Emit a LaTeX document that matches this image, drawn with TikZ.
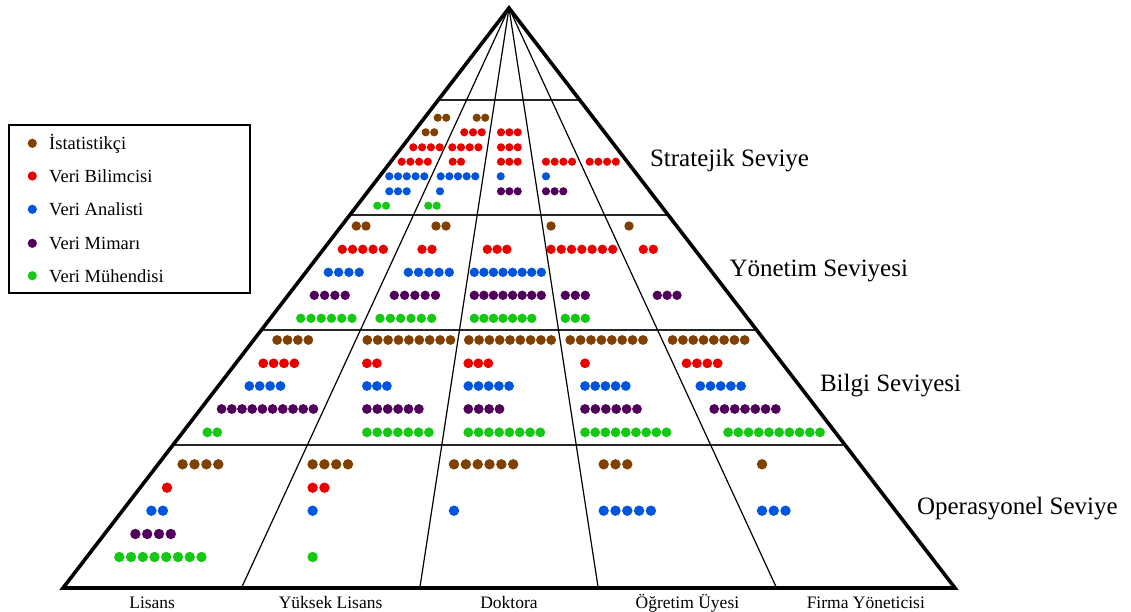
\documentclass[tikz,border=0pt]{standalone}
\usepackage{fontspec}
\setmainfont{Liberation Serif}
\usetikzlibrary{calc}

\definecolor{cstat}{RGB}{128,64,0}
\definecolor{cbil}{RGB}{235,0,0}
\definecolor{cana}{RGB}{0,85,220}
\definecolor{cmim}{RGB}{80,0,90}
\definecolor{cmuh}{RGB}{20,200,20}

% a row of dots: style, x of first centre, y, count, spacing, radius
\newcommand{\pdots}[6]{%
  \foreach \k in {1,...,#4}{\fill[#1] ({#2+(\k-1)*#5},#3) circle[radius=#6pt];}}

\begin{document}
\begin{tikzpicture}[x=1pt,y=-1pt,
  stat/.style={fill=cstat}, bil/.style={fill=cbil}, ana/.style={fill=cana},
  mim/.style={fill=cmim}, muh/.style={fill=cmuh},
  edge/.style={line width=3.6pt, line join=miter},
  colline/.style={line width=1.2pt},
  lvline/.style={line width=1.3pt, black!85},
  lvlabel/.style={anchor=base west, font=\fontsize{25}{30}\selectfont},
  collabel/.style={anchor=base, font=\fontsize{17.5}{21}\selectfont},
  legtext/.style={anchor=base west, font=\fontsize{18.5}{22}\selectfont}]
\useasboundingbox (0,0) rectangle (1131,612);

% pyramid frame
\coordinate (apex) at (509,8);
\coordinate (bl) at (63,588);
\coordinate (br) at (955,588);
\coordinate (b1) at (241.4,588);
\coordinate (b2) at (419.8,588);
\coordinate (b3) at (598.2,588);
\coordinate (b4) at (776.6,588);

\foreach \t in {0.1586,0.3569,0.5552,0.7534}
  \draw[lvline] ($(apex)!\t!(bl)$) -- ($(apex)!\t!(br)$);
\foreach \b in {b1,b2,b3,b4}
  \draw[colline] (apex) -- (\b);
\draw[edge] (bl) -- (apex) -- (br) -- cycle;

% level names
\node[lvlabel] (l1) at (646.5,166.7) {Stratejik Seviye};
\node[lvlabel] (l2) at (726,276.7) {Yönetim Seviyesi};
\node[lvlabel] (l3) at (816.5,391.7) {Bilgi Seviyesi};
\node[lvlabel] (l4) at (913.5,514.7) {Operasyonel Seviye};

% column names
\node[collabel] (c1) at (152.2,608) {Lisans};
\node[collabel] (c2) at (330.6,608) {Yüksek Lisans};
\node[collabel] (c3) at (509,608) {Doktora};
\node[collabel] (c4) at (687.4,608) {Öğretim Üyesi};
\node[collabel] (c5) at (865.8,608) {Firma Yöneticisi};

% Stratejik Seviye
\def\r{4.1}
\pdots{stat}{437.7}{117.7}{2}{8.5}{\r}
\pdots{stat}{476.7}{117.7}{2}{8.5}{\r}
\pdots{stat}{425.7}{132.3}{2}{8.5}{\r}
\pdots{bil}{464.3}{132.3}{3}{8.7}{\r}
\pdots{bil}{501}{132.3}{3}{8.35}{\r}
\pdots{bil}{413.3}{147.3}{4}{8.8}{\r}
\pdots{bil}{452.3}{147.3}{4}{8.7}{\r}
\pdots{bil}{501}{147.3}{3}{8.35}{\r}
\pdots{bil}{401.7}{161.7}{4}{8.7}{\r}
\pdots{bil}{452.7}{161.7}{2}{8.3}{\r}
\pdots{bil}{501}{161.7}{3}{8.35}{\r}
\pdots{bil}{546}{161.7}{4}{8.7}{\r}
\pdots{bil}{589.7}{161.7}{4}{8.7}{\r}
\pdots{ana}{389.3}{176.3}{5}{8.75}{\r}
\pdots{ana}{440.7}{176.3}{5}{8.65}{\r}
\pdots{ana}{500.7}{176.3}{1}{8.7}{\r}
\pdots{ana}{546}{176.3}{1}{8.7}{\r}
\pdots{ana}{389.3}{191.3}{3}{8.7}{\r}
\pdots{ana}{440}{191.3}{1}{8.7}{\r}
\pdots{mim}{501}{191.3}{3}{8.35}{\r}
\pdots{mim}{546}{191.3}{3}{8.65}{\r}
\pdots{muh}{377.3}{205.7}{2}{8.7}{\r}
\pdots{muh}{428.3}{205.7}{2}{8.4}{\r}

% Yönetim Seviyesi
\def\r{4.7}
\pdots{stat}{356.3}{226}{2}{9.7}{\r}
\pdots{stat}{436}{226}{2}{10}{\r}
\pdots{stat}{551}{226}{1}{10}{\r}
\pdots{stat}{629}{226}{1}{10}{\r}
\pdots{bil}{342.3}{249.3}{5}{10.25}{\r}
\pdots{bil}{422}{249.3}{2}{10}{\r}
\pdots{bil}{487.3}{249.3}{3}{9.8}{\r}
\pdots{bil}{551}{249.3}{7}{10.28}{\r}
\pdots{bil}{643.3}{249.3}{2}{10}{\r}
\pdots{ana}{328.3}{272.3}{4}{10.3}{\r}
\pdots{ana}{408.3}{272.3}{5}{10.25}{\r}
\pdots{ana}{474.3}{272.3}{8}{9.57}{\r}
\pdots{mim}{314.3}{295.3}{4}{10.3}{\r}
\pdots{mim}{394.3}{295.3}{5}{10.3}{\r}
\pdots{mim}{474.3}{295.3}{8}{9.57}{\r}
\pdots{mim}{565.3}{295.3}{3}{10}{\r}
\pdots{mim}{657.3}{295.3}{3}{9.85}{\r}
\pdots{muh}{300.7}{318.3}{6}{10.26}{\r}
\pdots{muh}{380}{318.3}{6}{10.34}{\r}
\pdots{muh}{474.3}{318.3}{7}{9.57}{\r}
\pdots{muh}{565.3}{318.3}{3}{10}{\r}

% Bilgi Seviyesi
\def\r{4.9}
\pdots{stat}{277.1}{340}{4}{10.4}{\r}
\pdots{stat}{367.3}{340}{9}{10.4}{\r}
\pdots{stat}{468.8}{340}{9}{10.3}{\r}
\pdots{stat}{570.2}{340}{8}{10.4}{\r}
\pdots{stat}{672.6}{340}{8}{10.3}{\r}
\pdots{bil}{263.2}{363.3}{4}{10.4}{\r}
\pdots{bil}{366.9}{363.3}{2}{10}{\r}
\pdots{bil}{468.3}{363.3}{3}{10}{\r}
\pdots{bil}{585}{363.3}{1}{10}{\r}
\pdots{bil}{686.5}{363.3}{4}{10.4}{\r}
\pdots{ana}{249.3}{386}{4}{10.4}{\r}
\pdots{ana}{366.9}{386}{3}{10}{\r}
\pdots{ana}{468.3}{386}{5}{10.2}{\r}
\pdots{ana}{585}{386}{5}{10.2}{\r}
\pdots{ana}{700.3}{386}{5}{10.2}{\r}
\pdots{mim}{221.6}{409}{10}{10.2}{\r}
\pdots{mim}{366.9}{409}{6}{10.4}{\r}
\pdots{mim}{468.3}{409}{4}{10.4}{\r}
\pdots{mim}{585}{409}{6}{10.4}{\r}
\pdots{mim}{714.2}{409}{7}{10.27}{\r}
\pdots{muh}{207.3}{432.3}{2}{9.9}{\r}
\pdots{muh}{366.9}{432.3}{7}{10.33}{\r}
\pdots{muh}{468.3}{432.3}{8}{10.29}{\r}
\pdots{muh}{585}{432.3}{9}{10.19}{\r}
\pdots{muh}{728.1}{432.3}{10}{10.21}{\r}

% Operasyonel Seviye
\def\r{5.2}
\pdots{stat}{182.6}{464.3}{4}{11.9}{\r}
\pdots{stat}{312.6}{464.3}{4}{11.8}{\r}
\pdots{stat}{454}{464.3}{6}{11.84}{\r}
\pdots{stat}{603.7}{464.3}{3}{11.8}{\r}
\pdots{stat}{762}{464.3}{1}{11.8}{\r}
\pdots{bil}{167}{487.7}{1}{11.8}{\r}
\pdots{bil}{312.6}{487.7}{2}{11.9}{\r}
\pdots{ana}{151.4}{510.7}{2}{11.5}{\r}
\pdots{ana}{312.6}{510.7}{1}{11.8}{\r}
\pdots{ana}{454}{510.7}{1}{11.8}{\r}
\pdots{ana}{603.7}{510.7}{5}{11.8}{\r}
\pdots{ana}{762}{510.7}{3}{11.75}{\r}
\pdots{mim}{135.4}{534}{4}{11.8}{\r}
\pdots{muh}{119.3}{557}{8}{11.74}{\r}
\pdots{muh}{312.6}{557}{1}{11.8}{\r}

% legend
\draw[line width=1.5pt] (9,125) rectangle (250,293);
\fill[stat] (32.3,143.3) circle[radius=4.6pt];
\node[legtext] (t1) at (45.7,149.6) {İstatistikçi};
\fill[bil] (32.3,176) circle[radius=4.6pt];
\node[legtext] (t2) at (45.7,182.3) {Veri Bilimcisi};
\fill[ana] (32.3,209.3) circle[radius=4.6pt];
\node[legtext] (t3) at (45.7,215.6) {Veri Analisti};
\fill[mim] (32.3,243.3) circle[radius=4.6pt];
\node[legtext] (t4) at (45.7,249.6) {Veri Mimarı};
\fill[muh] (32.3,275.7) circle[radius=4.6pt];
\node[legtext] (t5) at (45.7,282) {Veri Mühendisi};
\end{tikzpicture}
\end{document}
